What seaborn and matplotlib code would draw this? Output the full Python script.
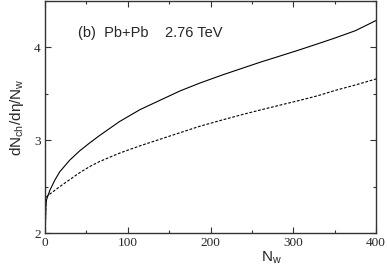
import numpy as np
import pandas as pd
import matplotlib
matplotlib.use("Agg")
import matplotlib.pyplot as plt
from matplotlib.ticker import MultipleLocator
import seaborn as sns

n_w = [0.4, 1.2, 2, 6, 12, 18, 30, 42, 54, 66, 90, 115, 139, 163, 187, 215, 240, 260, 285, 308, 330, 350, 375, 400]
solid = [2.0, 2.3, 2.36, 2.46, 2.57, 2.66, 2.785, 2.885, 2.97, 3.05, 3.20, 3.33, 3.43, 3.53, 3.615, 3.705, 3.78, 3.84, 3.91, 3.975, 4.04, 4.10, 4.18, 4.29]
dashed = [2.0, 2.3, 2.39, 2.42, 2.46, 2.50, 2.575, 2.65, 2.715, 2.77, 2.86, 2.94, 3.01, 3.08, 3.15, 3.22, 3.28, 3.325, 3.38, 3.43, 3.48, 3.535, 3.595, 3.66]

df = pd.DataFrame({"N": n_w, "solid": solid, "dashed": dashed})

sns.set_style("ticks")
plt.rcParams["font.family"] = ["Liberation Sans", "DejaVu Sans"]

fig = plt.figure(figsize=(3.87, 2.73), dpi=100)
ax = fig.add_axes([0.116, 0.1465, 0.856, 0.85])

sns.lineplot(data=df, x="N", y="solid", ax=ax, color="black", linewidth=0.8)
sns.lineplot(data=df, x="N", y="dashed", ax=ax, color="black", linewidth=0.8, linestyle=(0, (2.5, 1.5)))

ax.set_xlim(0, 400)
ax.set_ylim(2, 4.5)
ax.xaxis.set_major_locator(MultipleLocator(100))
ax.xaxis.set_minor_locator(MultipleLocator(50))
ax.yaxis.set_major_locator(MultipleLocator(1))
ax.yaxis.set_minor_locator(MultipleLocator(0.5))
ax.tick_params(which="both", direction="in", top=True, right=True, width=0.8, color="#333333")
ax.tick_params(which="major", length=4, labelsize=9.5, pad=3)
ax.tick_params(which="minor", length=2)
for lab in ax.get_xticklabels() + ax.get_yticklabels():
    lab.set_fontfamily("Liberation Serif")
for sp in ax.spines.values():
    sp.set_linewidth(1.0)
    sp.set_color("#333333")

ax.set_xlabel(r"N$_\mathregular{w}$", fontsize=11)
ax.xaxis.set_label_coords(0.685, -0.07)
ax.set_ylabel(r"dN$_\mathregular{ch}$/dη/N$_\mathregular{w}$", fontsize=11, labelpad=6)

ax.text(40, 4.15, "(b)  Pb+Pb    2.76 TeV", fontsize=10.5, va="center", ha="left")

fig.savefig("out.png", dpi=100)
